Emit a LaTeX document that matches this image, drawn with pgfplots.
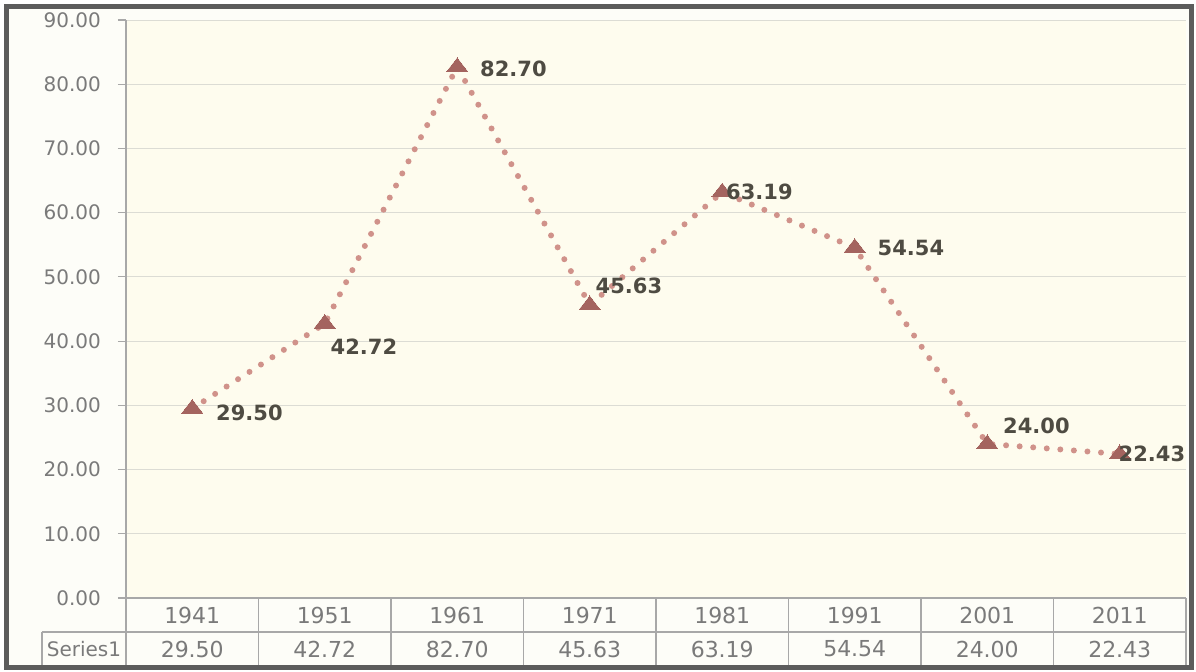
\documentclass[border=0pt]{standalone}
\usepackage{pgfplots}
\usepackage{pgfplotstable}
\pgfplotsset{compat=1.18}
\usepackage{fontspec}
\setmainfont{DejaVu Sans}
\definecolor{linec}{HTML}{D0928A}
\definecolor{markc}{HTML}{A4645F}
\definecolor{lblc}{HTML}{4E4B42}
\definecolor{tickc}{HTML}{7A7A7A}
\definecolor{gridc}{HTML}{DCDCD4}
\definecolor{bgc}{HTML}{FEFCEE}
\definecolor{tablec}{HTML}{A8A8A8}
\definecolor{framec}{HTML}{5C5C5C}
\definecolor{outc}{HTML}{FDFDF8}

\pgfplotstableread{
x y dx dy
0 29.50 12 -2
1 42.72 3 -11.5
2 82.70 11.5 -1
3 45.63 3 9.5
4 63.19 2 0
5 54.54 11.5 0
6 24.00 8 9
7 22.43 -0.5 0
}\data

\begin{document}
\begin{tikzpicture}
\useasboundingbox (-63pt,-36.5pt) rectangle (535pt,299pt);
\fill[outc] (-59.5pt,-34.5pt) rectangle (532.5pt,295.5pt);
\begin{axis}[at={(0pt,0pt)}, anchor=south west, scale only axis,
  width=530pt, height=289pt,
  xmin=-0.5, xmax=7.5, ymin=0, ymax=90, ytick={0,10,...,90},
  xtick=\empty,
  axis x line*=bottom, axis y line*=left,
  axis line style={draw=tablec, line width=0.6pt},
  ymajorgrids, grid style={gridc, line width=0.5pt},
  y tick label style={font=\fontsize{10}{12}\selectfont, color=tickc, xshift=-5pt,
    /pgf/number format/.cd, fixed, fixed zerofill, precision=2, assume math mode=true},
  axis background/.style={fill=bgc},
  major tick length=4pt, tick align=outside, tick style={tablec, line width=0.6pt},
  clip=false]
\addplot[linec, line width=3pt, line cap=round, dash pattern=on 0pt off 6.8pt,
  mark=triangle*, mark size=6pt,
  mark options={solid, fill=markc, draw=markc, line width=0pt, yscale=0.75},
  nodes near coords={\pgfmathprintnumber[fixed,fixed zerofill,precision=2,assume math mode=true]{\pgfplotspointmeta}},
  visualization depends on={\thisrow{dx}\as\dx},
  visualization depends on={\thisrow{dy}\as\dy},
  nodes near coords style={anchor=west, xshift=\dx pt, yshift=\dy pt,
    font=\fontsize{10.5}{12}\selectfont\bfseries, text=lblc, inner sep=0pt}
] table[x=x, y=y] {\data};
\end{axis}
% data table below the plot
\begin{scope}[tablec, line width=0.6pt]
\draw (-42pt,-17pt) -- (530pt,-17pt);
\draw (-42pt,-17pt) -- (-42pt,-34.5pt);
\foreach \k in {0,...,8} { \draw ({66.25pt*\k},0pt) -- ({66.25pt*\k},-34.5pt); }
\end{scope}
\foreach \i/\yr/\v in {0/1941/29.50,1/1951/42.72,2/1961/82.70,3/1971/45.63,4/1981/63.19,5/1991/54.54,6/2001/24.00,7/2011/22.43} {
  \node[font=\fontsize{11}{13}\selectfont, text=tickc] at ({66.25pt*(\i+0.5)},-8.5pt) {\yr};
  \node[font=\fontsize{11}{13}\selectfont, text=tickc] at ({66.25pt*(\i+0.5)},-25.5pt) {\v};
}
\node[font=\fontsize{10}{12}\selectfont, text=tickc] at (-21pt,-25.5pt) {Series1};
\draw[framec, line width=2.5pt] (-59.5pt,-34.5pt) rectangle (532.5pt,295.5pt);
\end{tikzpicture}
\end{document}
